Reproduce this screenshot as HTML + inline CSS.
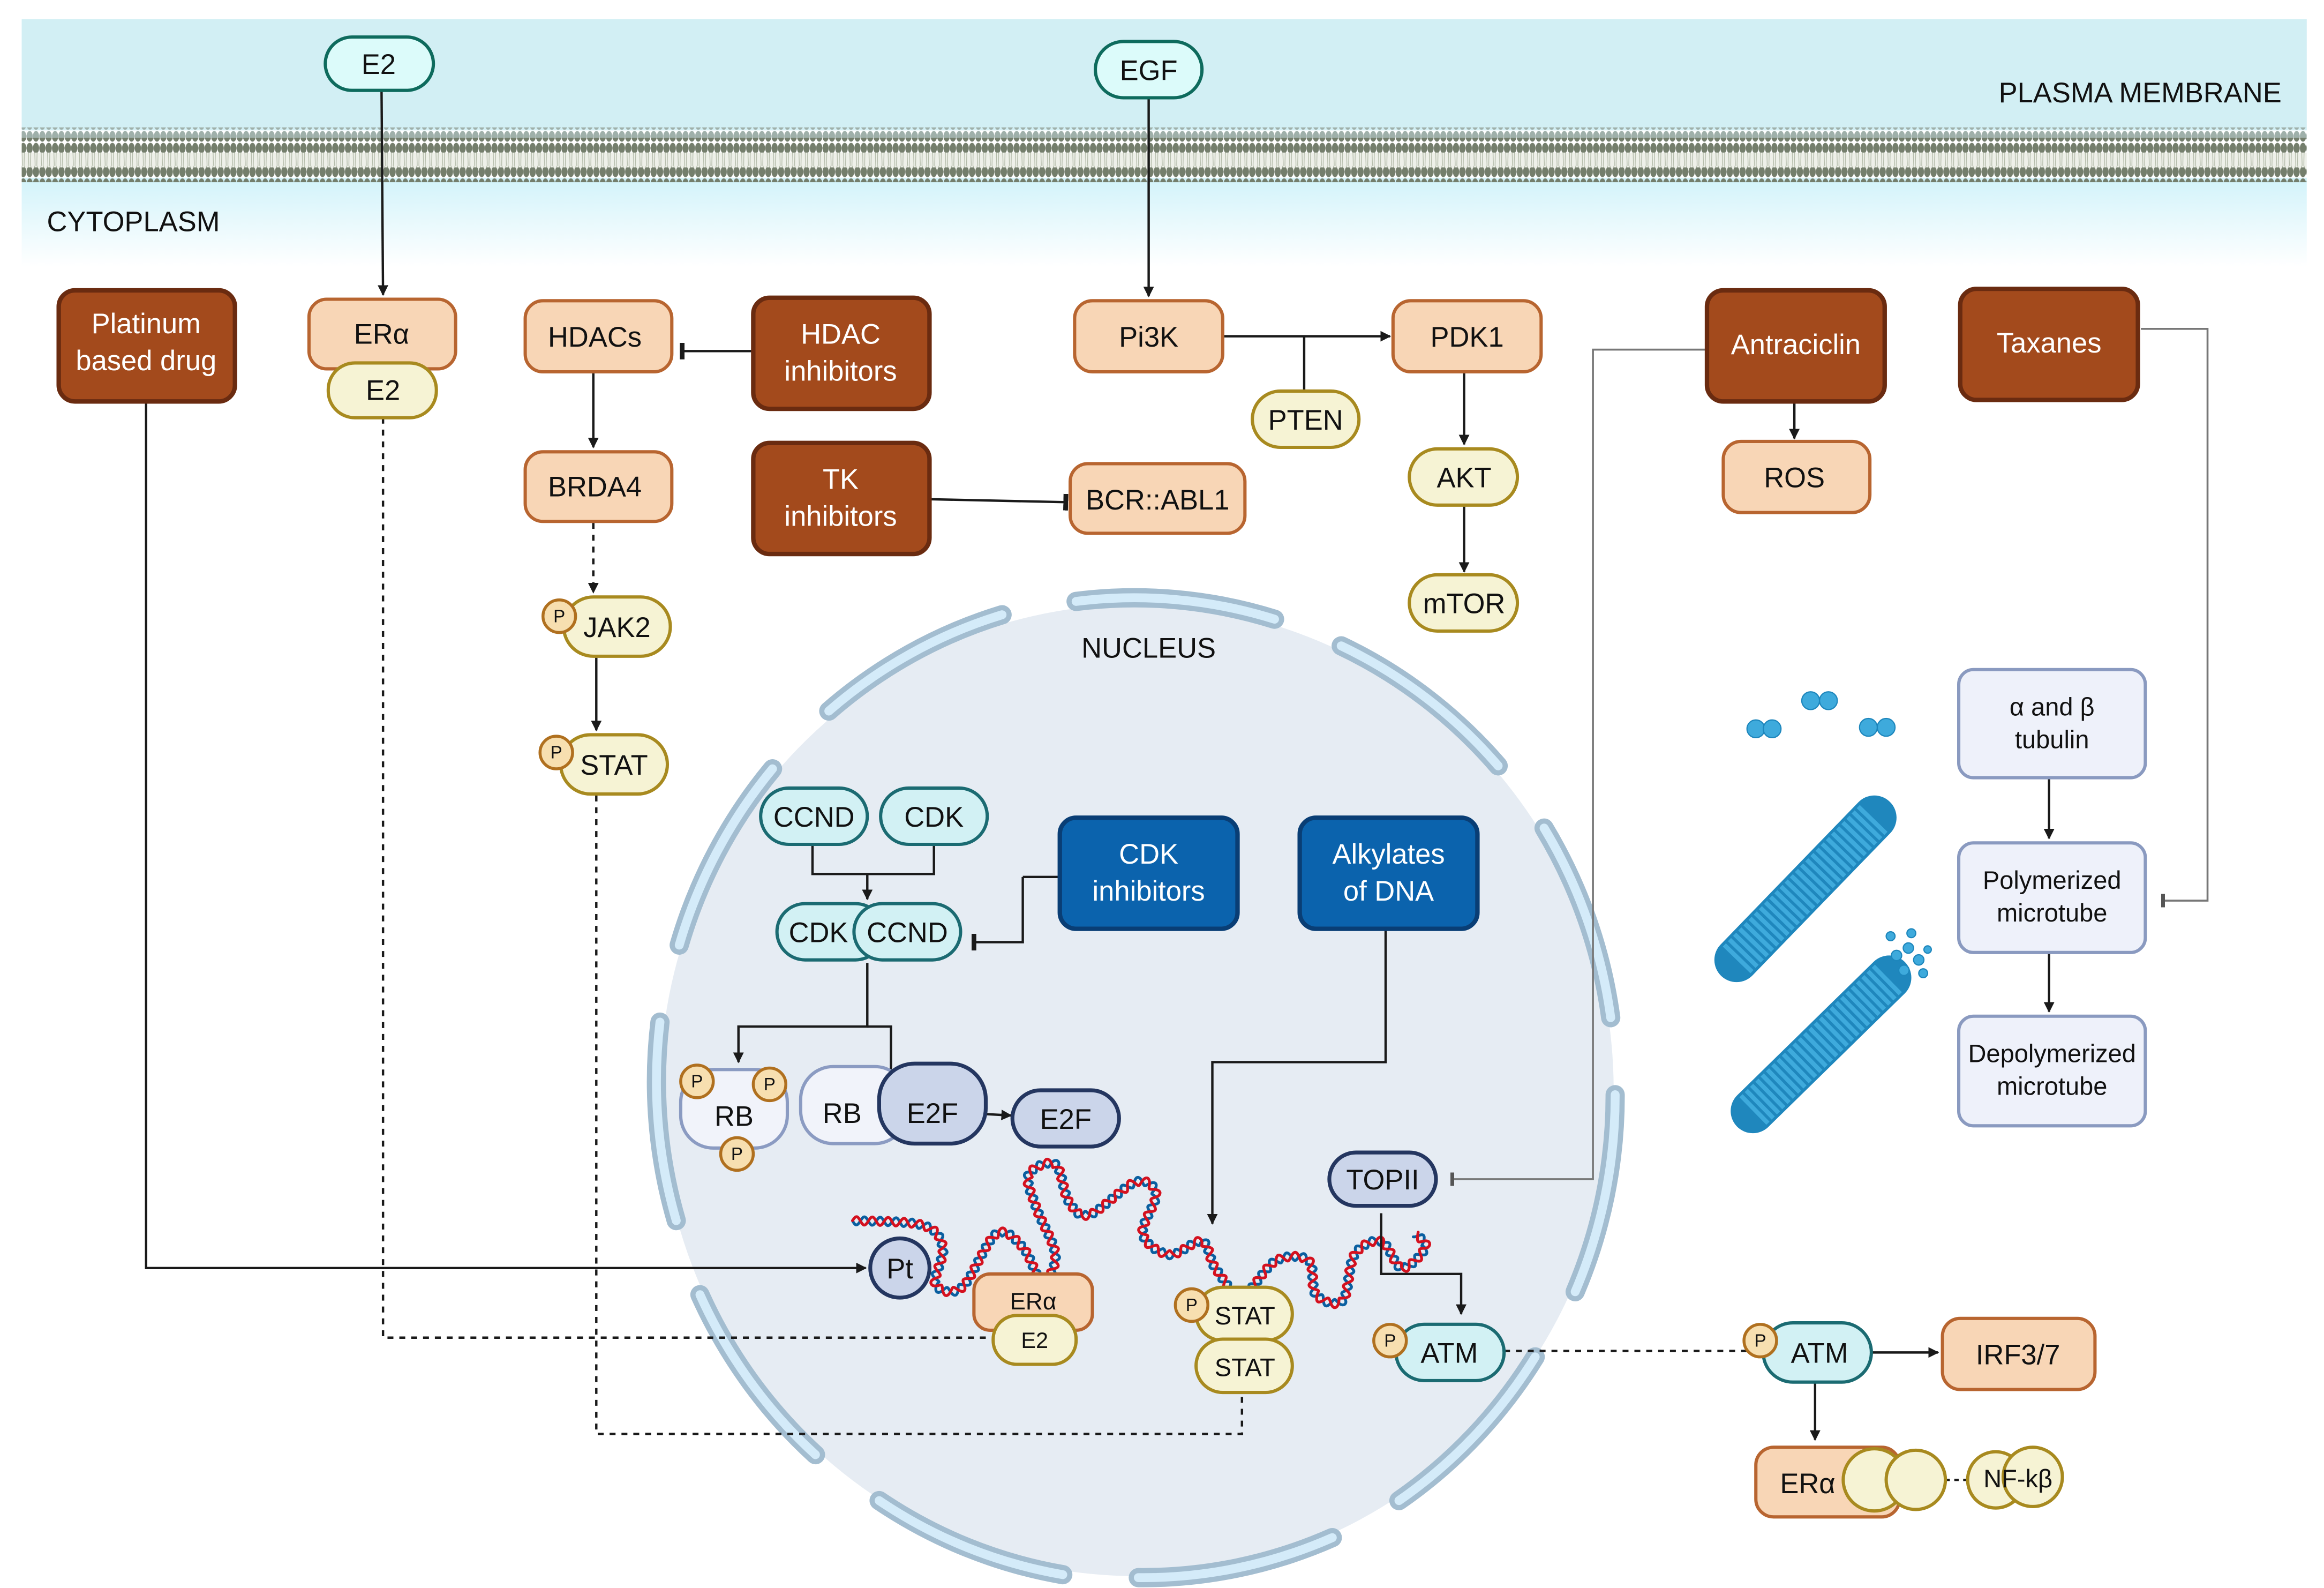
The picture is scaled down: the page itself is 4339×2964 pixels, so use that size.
<!DOCTYPE html>
<html><head><meta charset="utf-8"><style>
html,body{margin:0;padding:0;background:#fff}
svg{display:block}
text{font-family:"Liberation Sans",sans-serif;fill:#111}
</style></head><body>
<svg id="S" width="4339" height="2964" viewBox="0 0 1568 1072" xmlns="http://www.w3.org/2000/svg">
<defs>
<linearGradient id="cyto" x1="0" y1="0" x2="0" y2="1"><stop offset="0" stop-color="#d2f3fa"/><stop offset="1" stop-color="#ffffff"/></linearGradient>
<pattern id="heads" width="4.3" height="8" patternUnits="userSpaceOnUse"><ellipse cx="2.15" cy="4" rx="2.1" ry="3.6" fill="#747e6c"/></pattern>
<pattern id="headsT" width="4.3" height="8" patternUnits="userSpaceOnUse"><ellipse cx="2.15" cy="4" rx="2.1" ry="3.6" fill="#9fb0aa"/></pattern>
<pattern id="tails" width="4.3" height="14" patternUnits="userSpaceOnUse"><path d="M1.2 0 L1.6 14 M3 0 L2.7 14" stroke="#b3bba9" stroke-width="0.5"/></pattern>
<marker id="ar" viewBox="0 0 10 10" refX="9" refY="5" markerWidth="4.5" markerHeight="4.5" orient="auto"><path d="M0 0 L10 5 L0 10z" fill="#1a1a1a"/></marker>
<marker id="bar" viewBox="0 0 4 14" refX="2" refY="7" markerWidth="2" markerHeight="7" orient="auto"><rect x="0" y="0" width="4" height="14" fill="#1a1a1a"/></marker>
<marker id="barg" viewBox="0 0 4 14" refX="2" refY="7" markerWidth="2" markerHeight="7" orient="auto"><rect x="0" y="0" width="4" height="14" fill="#555"/></marker>
<path id="env" d="M559 480 A323 330 0 0 1 676 415 M726 406 A323 330 0 0 1 860 418 M905 436 A323 330 0 0 1 1011 517 M1042 559 A323 330 0 0 1 1087 687 M1090 739 A323 330 0 0 1 1063 872 M1036 916 A323 330 0 0 1 944 1013 M899 1038 A323 330 0 0 1 768 1065 M717 1063 A323 330 0 0 1 593 1013 M550 982 A323 330 0 0 1 472 874 M456 824 A323 330 0 0 1 445 690 M458 638 A323 330 0 0 1 521 519"/>
</defs>

<rect x="14" y="13" width="1543" height="75" fill="#d2eff4"/>
<rect x="14" y="120" width="1543" height="60" fill="url(#cyto)"/>
<rect x="14" y="86" width="1543" height="10" fill="url(#headsT)"/>
<rect x="14" y="93" width="1543" height="11" fill="url(#heads)"/>
<rect x="14" y="103" width="1543" height="12" fill="#eef0e9"/>
<rect x="14" y="103" width="1543" height="12" fill="url(#tails)"/>
<rect x="14" y="113" width="1543" height="10" fill="url(#heads)"/>
<text x="1540" y="69" font-size="19" text-anchor="end">PLASMA MEMBRANE</text>
<text x="31" y="156" font-size="19">CYTOPLASM</text>

<ellipse cx="767" cy="736" rx="322" ry="328" fill="#e6ecf3"/>
<g fill="none" stroke-linecap="round">
<use href="#env" stroke="#a3bdd0" stroke-width="13"/>
<use href="#env" stroke="#d4ebf9" stroke-width="6"/>
</g>
<text x="775" y="444" font-size="19" text-anchor="middle">NUCLEUS</text>

<g id="dnag" fill="none" stroke-width="1.9" stroke-linejoin="round" stroke-linecap="round">
<polyline id="dnafb" points="575,824 622,827 636,842 631,867 649,869 672,833 690,842 703,865 712,847 699,815 694,793 712,786 721,811 735,820 766,798 780,806 771,833 789,847 811,838 820,856 838,874 861,851 883,851 888,874 906,878 914,847 932,838 946,856 962,842 955,833" stroke="#0a5fa0"/>
</g>

<g fill="none" stroke="#1a1a1a" stroke-width="1.6">
<path d="M257 62 L258 199" marker-end="url(#ar)"/>
<path d="M98 272 V856 H584" marker-end="url(#ar)"/>
<path d="M258 282 V903 H670" stroke-dasharray="4 4"/>
<path d="M508 237 H460" marker-end="url(#bar)"/>
<path d="M400 252 V302" marker-end="url(#ar)"/>
<path d="M400 353 V400" stroke-dasharray="4 4" marker-end="url(#ar)"/>
<path d="M402 444 V493" marker-end="url(#ar)"/>
<path d="M402 537 V968 H838 V940" stroke-dasharray="4 4"/>
<path d="M627 337 L719 339" marker-end="url(#bar)"/>
<path d="M775 66 V200" marker-end="url(#ar)"/>
<path d="M825 227 H938" marker-end="url(#ar)"/>
<path d="M880 227 V263"/>
<path d="M988 251 V300" marker-end="url(#ar)"/>
<path d="M988 342 V386" marker-end="url(#ar)"/>
<path d="M1211 271 V296" marker-end="url(#ar)"/>
<path d="M1383 525 V566" marker-end="url(#ar)"/>
<path d="M1383 643 V683" marker-end="url(#ar)"/>
<path d="M548 570 V590 H630 V570"/>
<path d="M585 590 V607" marker-end="url(#ar)"/>
<path d="M690 592 V636 H657" marker-end="url(#bar)"/>
<path d="M715 592 H690"/>
<path d="M585 650 V693 H498 V717" marker-end="url(#ar)"/>
<path d="M585 693 H601 V740"/>
<path d="M663 752 L682 753" marker-end="url(#ar)"/>
<path d="M935 628 V717 H818 V826" marker-end="url(#ar)"/>
<path d="M932 819 V860 H986 V887" marker-end="url(#ar)"/>
<path d="M1015 912 H1186" stroke-dasharray="4 4"/>
<path d="M1262 913 H1308" marker-end="url(#ar)"/>
<path d="M1225 933 V972" marker-end="url(#ar)"/>
<path d="M1313 999 H1333" stroke-dasharray="3 3"/>
</g>
<g fill="none" stroke="#777" stroke-width="1.3">
<path d="M1152 236 H1075 V796 H980" marker-end="url(#barg)"/>
<path d="M1445 222 H1490 V608 H1460" marker-end="url(#barg)"/>
</g>

<g font-size="19" text-anchor="middle">
<rect x="219" y="25" width="73" height="36" rx="18" fill="#dcfbfa" stroke="#0e6b5d" stroke-width="2.2"/><text x="255" y="50">E2</text>
<rect x="739" y="28" width="72" height="38" rx="19" fill="#dcfbfa" stroke="#0e6b5d" stroke-width="2.2"/><text x="775" y="54">EGF</text>

<g fill="#a34a1c" stroke="#6a2b10" stroke-width="3">
<rect x="39" y="196" width="119" height="75" rx="11"/>
<rect x="508" y="201" width="119" height="75" rx="11"/>
<rect x="508" y="299" width="119" height="75" rx="11"/>
<rect x="1152" y="196" width="120" height="75" rx="11"/>
<rect x="1323" y="195" width="120" height="75" rx="11"/>
</g>
<text x="98" y="225" style="fill:#fff">Platinum</text><text x="98" y="250" style="fill:#fff">based drug</text>
<text x="567" y="232" style="fill:#fff">HDAC</text><text x="567" y="257" style="fill:#fff">inhibitors</text>
<text x="567" y="330" style="fill:#fff">TK</text><text x="567" y="355" style="fill:#fff">inhibitors</text>
<text x="1212" y="239" style="fill:#fff">Antraciclin</text>
<text x="1383" y="238" style="fill:#fff">Taxanes</text>

<g fill="#0b63ad" stroke="#093e75" stroke-width="3">
<rect x="715" y="552" width="120" height="75" rx="11"/>
<rect x="877" y="552" width="120" height="75" rx="11"/>
</g>
<text x="775" y="583" style="fill:#fff">CDK</text><text x="775" y="608" style="fill:#fff">inhibitors</text>
<text x="937" y="583" style="fill:#fff">Alkylates</text><text x="937" y="608" style="fill:#fff">of DNA</text>

<g fill="#f8d6b6" stroke="#b86530" stroke-width="2.2">
<rect x="208" y="202" width="99" height="47" rx="12"/>
<rect x="354" y="203" width="99" height="48" rx="12"/>
<rect x="354" y="305" width="99" height="47" rx="12"/>
<rect x="722" y="313" width="118" height="47" rx="12"/>
<rect x="725" y="203" width="100" height="48" rx="12"/>
<rect x="940" y="203" width="100" height="48" rx="12"/>
<rect x="1163" y="298" width="99" height="48" rx="12"/>
<rect x="657" y="860" width="80" height="38" rx="11"/>
<rect x="1311" y="890" width="103" height="48" rx="12"/>
<rect x="1185" y="977" width="97" height="47" rx="12"/>
</g>
<text x="257" y="232">ERα</text>
<text x="401" y="234">HDACs</text>
<text x="401" y="335">BRDA4</text>
<text x="781" y="344">BCR::ABL1</text>
<text x="775" y="234">Pi3K</text>
<text x="990" y="234">PDK1</text>
<text x="1211" y="329">ROS</text>
<text x="697" y="884" font-size="16">ERα</text>
<text x="1362" y="921">IRF3/7</text>
<text x="1220" y="1008">ERα</text>

<g fill="#f6f3d4" stroke="#a88a1f" stroke-width="2.2">
<rect x="221" y="245" width="73" height="37" rx="18"/>
<rect x="380" y="403" width="72" height="40" rx="20"/>
<rect x="378" y="496" width="72" height="40" rx="20"/>
<rect x="845" y="264" width="72" height="38" rx="19"/>
<rect x="951" y="303" width="73" height="38" rx="19"/>
<rect x="951" y="388" width="73" height="38" rx="19"/>
<rect x="670" y="888" width="56" height="33" rx="16"/>
<rect x="807" y="869" width="65" height="36" rx="18"/>
<rect x="807" y="904" width="65" height="36" rx="18"/>
<circle cx="1265" cy="999" r="21"/>
<circle cx="1293" cy="999" r="20"/>
<circle cx="1347" cy="999" r="19"/>
<circle cx="1372" cy="997" r="20"/>
</g>
<text x="258" y="270">E2</text>
<text x="416" y="430">JAK2</text>
<text x="414" y="523">STAT</text>
<text x="881" y="290">PTEN</text>
<text x="988" y="329">AKT</text>
<text x="988" y="414">mTOR</text>
<text x="698" y="910" font-size="15">E2</text>
<text x="840" y="894" font-size="17">STAT</text>
<text x="840" y="929" font-size="17">STAT</text>
<text x="1362" y="1004" font-size="17">NF-kβ</text>

<g fill="#d2f1f4" stroke="#1b6b72" stroke-width="2.2">
<rect x="513" y="532" width="72" height="38" rx="19"/>
<rect x="594" y="532" width="72" height="38" rx="19"/>
<rect x="524" y="610" width="72" height="38" rx="19"/>
<rect x="576" y="610" width="72" height="38" rx="19"/>
<rect x="942" y="894" width="73" height="38" rx="19"/>
<rect x="1190" y="893" width="73" height="40" rx="20"/>
</g>
<text x="549" y="558">CCND</text>
<text x="630" y="558">CDK</text>
<text x="552" y="636">CDK</text>
<text x="612" y="636">CCND</text>
<text x="978" y="920">ATM</text>
<text x="1228" y="920">ATM</text>

<g fill="#f1f3fa" stroke="#8b9bc2" stroke-width="2.2">
<rect x="459" y="722" width="72" height="53" rx="22"/>
<rect x="540" y="720" width="72" height="52" rx="22"/>
</g>
<text x="495" y="760">RB</text>
<text x="568" y="758">RB</text>

<g fill="#cbd5ea" stroke="#243660" stroke-width="2.6">
<rect x="593" y="718" width="72" height="54" rx="24"/>
<rect x="683" y="736" width="72" height="38" rx="19"/>
<circle cx="607" cy="856" r="20"/>
<rect x="897" y="778" width="72" height="36" rx="18"/>
</g>
<text x="629" y="758">E2F</text>
<text x="719" y="762">E2F</text>
<text x="607" y="863">Pt</text>
<text x="933" y="803">TOPII</text>

<g fill="#f7dfb0" stroke="#b0701f" stroke-width="2">
<circle cx="377" cy="416" r="11"/>
<circle cx="375" cy="508" r="11"/>
<circle cx="470" cy="730" r="11"/>
<circle cx="519" cy="732" r="11"/>
<circle cx="497" cy="779" r="11"/>
<circle cx="804" cy="881" r="11"/>
<circle cx="938" cy="905" r="11"/>
<circle cx="1188" cy="905" r="11"/>
</g>
<g font-size="12">
<text x="377" y="420">P</text><text x="375" y="512">P</text><text x="470" y="734">P</text>
<text x="519" y="736">P</text><text x="497" y="783">P</text><text x="804" y="885">P</text>
<text x="938" y="909">P</text><text x="1188" y="909">P</text>
</g>

<g fill="#eef1fa" stroke="#8a9ac0" stroke-width="2.2">
<rect x="1322" y="452" width="126" height="73" rx="10"/>
<rect x="1322" y="569" width="126" height="74" rx="10"/>
<rect x="1322" y="686" width="126" height="74" rx="10"/>
</g>
<g font-size="17">
<text x="1385" y="483">α and β</text><text x="1385" y="505">tubulin</text>
<text x="1385" y="600">Polymerized</text><text x="1385" y="622">microtube</text>
<text x="1385" y="717">Depolymerized</text><text x="1385" y="739">microtube</text>
</g>
</g>

<g>
<line x1="1172" y1="648" x2="1265" y2="552" stroke="#1f87bd" stroke-width="30" stroke-linecap="round"/>
<line x1="1172" y1="648" x2="1265" y2="552" stroke="#3eaadc" stroke-width="26" stroke-dasharray="3 2"/>
<line x1="1183" y1="750" x2="1275" y2="660" stroke="#1f87bd" stroke-width="30" stroke-linecap="round"/>
<line x1="1183" y1="750" x2="1275" y2="660" stroke="#3eaadc" stroke-width="26" stroke-dasharray="3 2"/>
<g fill="#3eaadc" stroke="#1d86bc" stroke-width="0.8">
<circle cx="1185" cy="492" r="6"/><circle cx="1196" cy="492" r="6"/>
<circle cx="1222" cy="473" r="6"/><circle cx="1234" cy="473" r="6"/>
<circle cx="1261" cy="491" r="6"/><circle cx="1273" cy="491" r="6"/>
<circle cx="1280" cy="645" r="3.5"/><circle cx="1288" cy="640" r="3.5"/><circle cx="1295" cy="648" r="3.5"/>
<circle cx="1285" cy="655" r="3.5"/><circle cx="1298" cy="657" r="3"/><circle cx="1276" cy="632" r="3"/>
<circle cx="1290" cy="630" r="3"/><circle cx="1301" cy="641" r="2.5"/>
</g>
</g>
</svg>
<script>
(function(){
var pts=[[575,824],[622,827],[636,842],[631,867],[649,869],[672,833],[690,842],[703,865],[712,847],[699,815],[694,793],[712,786],[721,811],[735,820],[766,798],[780,806],[771,833],[789,847],[811,838],[820,856],[838,874],[861,851],[883,851],[888,874],[906,878],[914,847],[932,838],[946,856],[962,842],[955,833]];
var d="M"+pts[0][0]+" "+pts[0][1];
for(var i=0;i<pts.length-1;i++){
var p0=pts[Math.max(0,i-1)],p1=pts[i],p2=pts[i+1],p3=pts[Math.min(pts.length-1,i+2)];
d+=" C"+(p1[0]+(p2[0]-p0[0])/6)+" "+(p1[1]+(p2[1]-p0[1])/6)+" "+(p2[0]-(p3[0]-p1[0])/6)+" "+(p2[1]-(p3[1]-p1[1])/6)+" "+p2[0]+" "+p2[1];}
var NS="http://www.w3.org/2000/svg";
var g=document.getElementById("dnag");
var base=document.createElementNS(NS,"path");base.setAttribute("d",d);g.appendChild(base);
var L=base.getTotalLength();g.removeChild(base);
document.getElementById("dnafb").style.display="none";
var a="",b="";
for(var s=0;s<=L;s+=0.6){
var p=base.getPointAtLength(s),q=base.getPointAtLength(Math.min(L,s+0.5));
var dx=q.x-p.x,dy=q.y-p.y,n=Math.hypot(dx,dy)||1;var nx=-dy/n,ny=dx/n;
var o1=2.8*Math.sin(s/1.7),o2=-o1;
a+=(s?"L":"M")+(p.x+nx*o1).toFixed(2)+" "+(p.y+ny*o1).toFixed(2);
b+=(s?"L":"M")+(p.x+nx*o2).toFixed(2)+" "+(p.y+ny*o2).toFixed(2);}
var pa=document.createElementNS(NS,"path");pa.setAttribute("d",a);pa.setAttribute("stroke","#0a5fa0");
var pb=document.createElementNS(NS,"path");pb.setAttribute("d",b);pb.setAttribute("stroke","#d4111f");
g.appendChild(pa);g.appendChild(pb);
})();
</script>
</body></html>
